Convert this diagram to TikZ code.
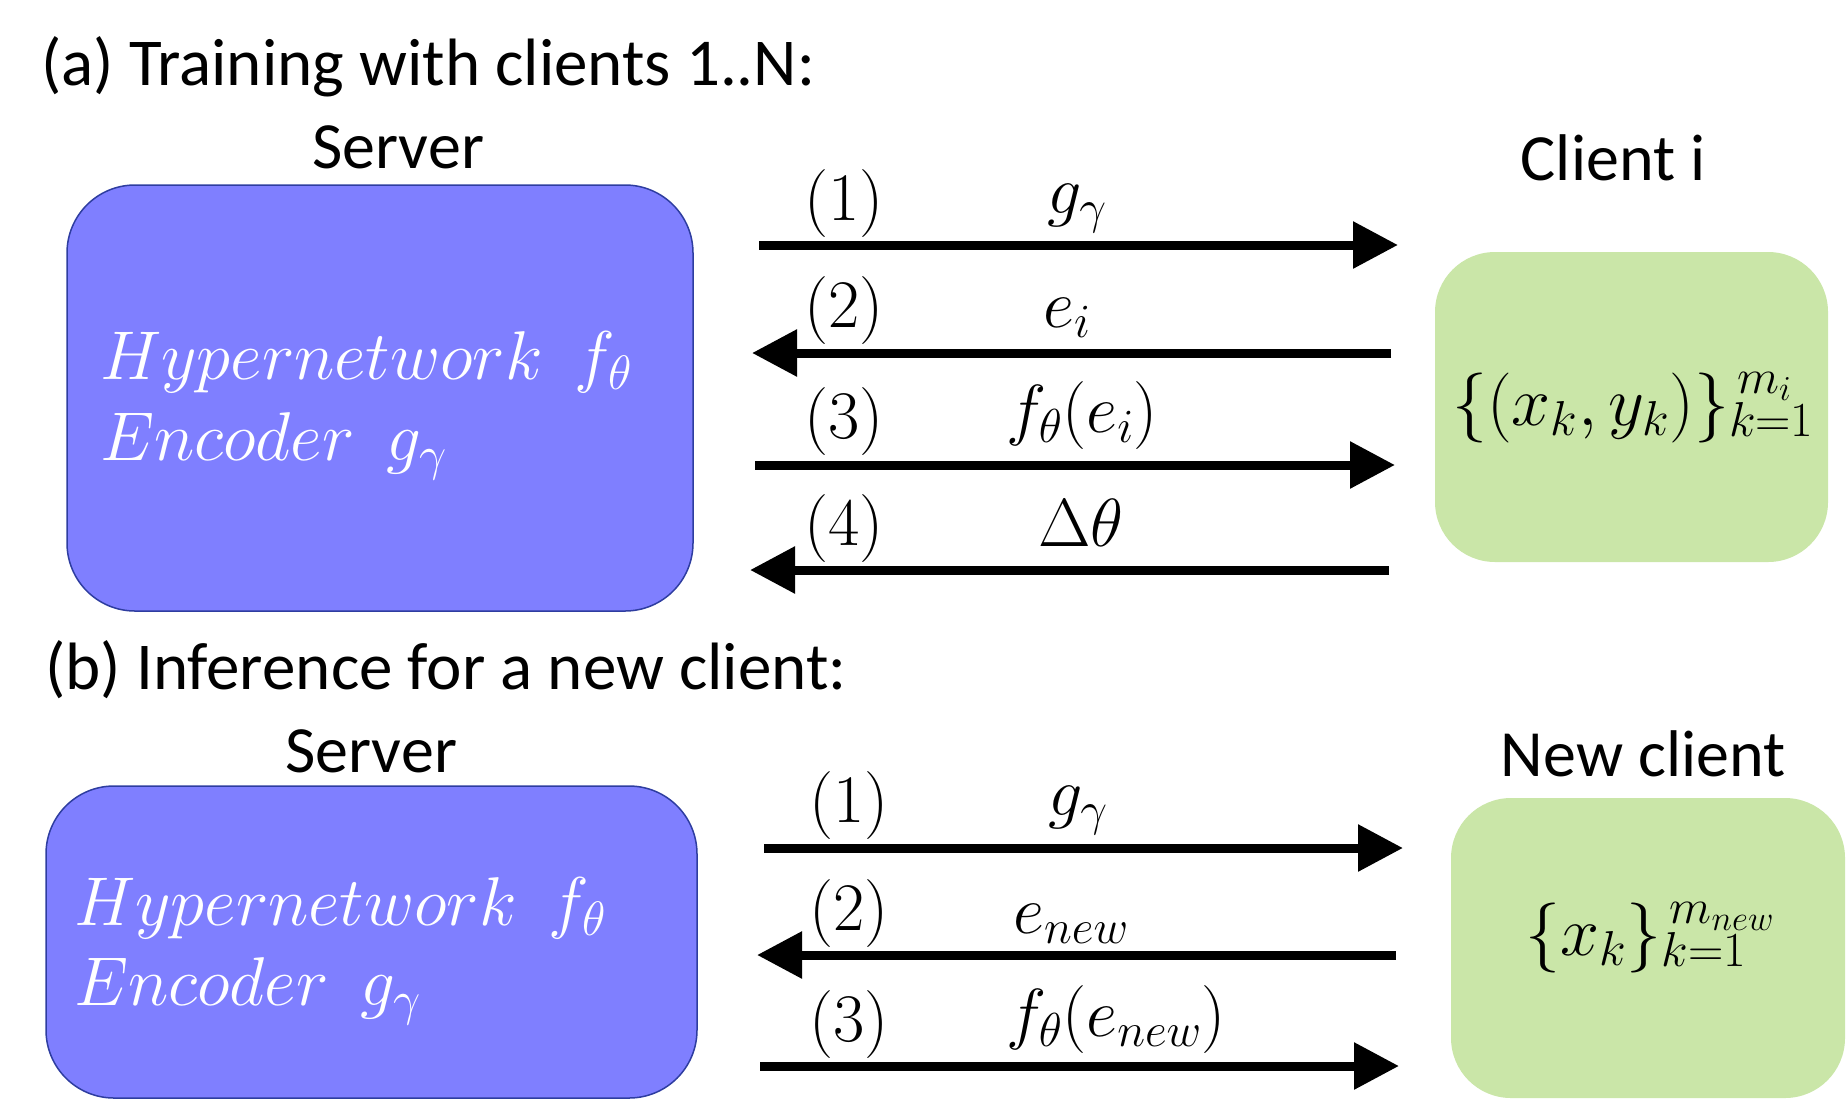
\RequirePackage{fix-cm}
\documentclass[tikz,border=0pt]{standalone}
\usepackage{fontspec}
\newfontfamily\carl{Carlito}
\usetikzlibrary{arrows.meta}
\definecolor{srvfill}{HTML}{7F7FFF}
\definecolor{srvdraw}{HTML}{2E3DA0}
\definecolor{clifill}{HTML}{CAE6A8}
\begin{document}
\begin{tikzpicture}[x=1pt,y=-1pt,
  title/.style={font=\carl\fontsize{67}{70}\selectfont, inner sep=0pt, anchor=base west},
  lab/.style={font=\carl\fontsize{66}{70}\selectfont, inner sep=0pt, anchor=base},
  srv/.style={draw=srvdraw, line width=1.5pt, fill=srvfill, rounded corners=68pt, inner sep=0pt},
  cli/.style={fill=clifill, rounded corners=60pt, inner sep=0pt},
  hyp/.style={text=white, font=\fontsize{69}{72}\selectfont, inner sep=0pt, anchor=base west},
  num/.style={font=\fontsize{68}{72}\selectfont, inner sep=0pt, anchor=base},
  ctext/.style={font=\fontsize{70}{74}\selectfont, inner sep=0pt, anchor=base},
  msg/.style={line width=9pt, -{Triangle[length=45pt,width=45pt]}}
]
\useasboundingbox (0,0) rectangle (1846,1112);

% ---------- (a) ----------
\node[title] (ta) at (41,85) {(a) Training with clients 1..N:};
\node[lab] (sla) at (398,168) {Server};
\node[lab] (cla) at (1613,180) {Client i};

\node[srv, minimum width=626pt, minimum height=426pt] (srva) at (380,398) {};
\node[hyp] (hypa) at (100,379) {$Hypernetwork\hspace{32pt}f_\theta$};
\node[hyp] (enca) at (100,460) {$Encoder\hspace{32pt}g_\gamma$};

\node[cli, minimum width=393pt, minimum height=310pt] (clia) at (1631.5,407) {};
\node[ctext] (dataa) at (1633,425) {$\{(x_k,y_k)\}_{k=1}^{\,m_i\rule[-6pt]{0pt}{0pt}}$};

\coordinate (a1s) at (759,245);  \coordinate (a1e) at (1398,245);
\coordinate (a2s) at (1391,353); \coordinate (a2e) at (752,353);
\coordinate (a3s) at (755,465);  \coordinate (a3e) at (1395,465);
\coordinate (a4s) at (1389,570); \coordinate (a4e) at (750,570);
\draw[msg] (a1s) -- (a1e);
\draw[msg] (a2s) -- (a2e);
\draw[msg] (a3s) -- (a3e);
\draw[msg] (a4s) -- (a4e);

\node[num] (na1) at (844,220) {$(1)$};
\node[num] (na2) at (844,327) {$(2)$};
\node[num] (na3) at (844,438) {$(3)$};
\node[num] (na4) at (844,545) {$(4)$};
\node[num] (la1) at (1077,213) {$g_\gamma$};
\node[num] (la2) at (1067,327) {$e_i$};
\node[num] (la3) at (1082,432) {$f_\theta(e_i)$};
\node[num] (la4) at (1081,546) {$\Delta\theta$};

% ---------- (b) ----------
\node[title] (tb) at (45,689) {(b) Inference for a new client:};
\node[lab] (slb) at (371,772) {Server};
\node[lab] (clb) at (1643,776) {New client};

\node[srv, minimum width=651pt, minimum height=312pt] (srvb) at (371.5,942) {};
\node[hyp] (hypb) at (74,925) {$Hypernetwork\hspace{32pt}f_\theta$};
\node[hyp] (encb) at (74,1005) {$Encoder\hspace{32pt}g_\gamma$};

\node[cli, minimum width=394pt, minimum height=300pt] (clib) at (1648,948) {};
\node[ctext] (datab) at (1650,955) {$\{x_k\}_{k=1}^{\,m_{new}\rule[-6pt]{0pt}{0pt}}$};

\coordinate (b1s) at (764,848);  \coordinate (b1e) at (1403,848);
\coordinate (b2s) at (1396,955); \coordinate (b2e) at (757,955);
\coordinate (b3s) at (760,1066); \coordinate (b3e) at (1399,1066);
\draw[msg] (b1s) -- (b1e);
\draw[msg] (b2s) -- (b2e);
\draw[msg] (b3s) -- (b3e);

\node[num] (nb1) at (849,822) {$(1)$};
\node[num] (nb2) at (849,930) {$(2)$};
\node[num] (nb3) at (849,1041) {$(3)$};
\node[num] (lb1) at (1078,815) {$g_\gamma$};
\node[num] (lb2) at (1071,933) {$e_{new}$};
\node[num] (lb3) at (1116,1036) {$f_\theta(e_{new})$};
\end{tikzpicture}
\end{document}
